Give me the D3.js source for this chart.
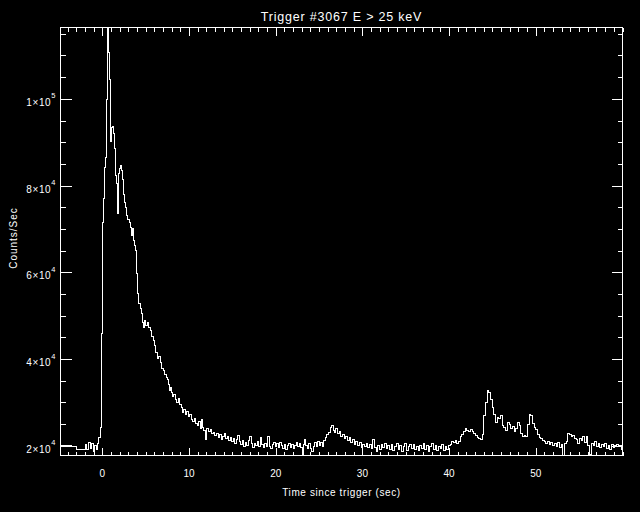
<!DOCTYPE html>
<html><head><meta charset="utf-8">
<script src="https://cdn.jsdelivr.net/npm/d3@7/dist/d3.min.js"></script>
<style>
html,body{margin:0;padding:0;background:#000;}
svg{display:block;background:#000;}
text{fill:#fff;font-family:"Liberation Sans",Arial,sans-serif;}
</style></head><body>
<svg id="c" width="640" height="512"></svg>
<script>
// ---- data (bin start times in s, counts/sec) ----
const times = [
-4.83,-3.53,-3.04,-1.96,-1.78,-1.60,-1.42,-1.25,-1.07,-0.90,-0.72,-0.55,
-0.40,-0.25,-0.12,0.00,0.12,0.23,0.35,0.46,0.58,0.69,0.81,0.92,1.04,1.15,1.27,1.39,1.50,1.62,1.73,
1.90,2.02,2.14,2.25,2.37,2.48,2.60,2.71,2.83,2.95,3.08,3.20,3.31,3.43,3.55,3.66,3.78,3.90,4.04,4.20,
4.35,4.55,4.67,4.78,4.90,5.01,5.16,5.33,5.50,5.70,5.89,6.03,6.17,6.32,6.49,6.66,6.86,7.01,7.18,7.36,
7.50,7.62,7.76,7.88,7.99,8.11,8.24,8.39,8.57,8.74,8.91,9.09,9.24,9.38,9.55,9.72,9.90,10.07,10.24,10.42,
10.59,10.76,10.94,11.11,11.28,11.40,11.51,11.69,11.86,12.03,12.20,12.43,12.61,12.78,12.95,13.13,13.36,13.53,13.71,13.88,
14.05,14.23,14.40,14.57,14.75,14.92,15.09,15.27,15.44,15.61,15.78,15.96,16.13,16.30,16.48,16.65,16.82,17.00,17.17,17.34,
17.51,17.69,17.86,18.04,18.21,18.38,18.56,18.73,18.90,19.07,19.25,19.42,19.60,19.77,19.94,20.11,20.29,20.46,20.63,20.81,
20.98,21.15,21.33,21.50,21.67,21.85,22.02,22.19,22.37,22.54,22.71,22.89,23.03,23.17,23.29,23.46,23.63,23.81,23.98,24.15,
24.33,24.50,24.68,24.85,25.02,25.20,25.37,25.52,25.71,25.90,26.09,26.29,26.46,26.63,26.80,26.94,27.13,27.32,27.51,27.71,
27.90,28.09,28.29,28.48,28.67,28.87,29.06,29.25,29.45,29.64,29.84,30.03,30.22,30.42,30.61,30.81,31.00,31.20,31.39,31.58,
31.78,31.97,32.17,32.36,32.55,32.75,32.94,33.14,33.33,33.52,33.72,33.91,34.11,34.30,34.50,34.69,34.88,35.08,35.27,35.47,
35.66,35.85,36.05,36.24,36.43,36.63,36.82,37.02,37.21,37.41,37.60,37.79,37.99,38.18,38.38,38.57,38.77,38.96,39.15,39.35,
39.54,39.73,39.93,40.12,40.31,40.51,40.70,40.90,41.09,41.28,41.48,41.67,41.87,42.06,42.25,42.45,42.64,42.84,43.03,43.22,
43.42,43.61,43.81,44.00,44.19,44.39,44.58,44.77,44.97,45.16,45.36,45.55,45.74,45.94,46.13,46.32,46.52,46.71,46.91,47.10,
47.29,47.49,47.68,47.87,48.07,48.26,48.46,48.65,48.84,49.04,49.23,49.42,49.62,49.81,50.00,50.20,50.39,50.59,50.78,50.97,
51.17,51.36,51.55,51.75,51.94,52.14,52.33,52.52,52.72,52.91,53.11,53.30,53.49,53.69,53.88,54.07,54.27,54.46,54.66,54.85,
55.04,55.24,55.43,55.63,55.82,56.01,56.21,56.40,56.60,56.79,56.98,57.18,57.37,57.56,57.76,57.95,58.15,58.34,58.53,58.73,
58.92,59.12,59.31,59.50,59.70,59.89
];
const counts = [
20150,19780,19080,20300,19150,20760,19380,20530,18690,20070,19150,20530,
21980,24290,45910,71580,76930,84220,86530,99770,116450,110610,104380,90260,93450,93610,92000,88600,82240,80530,73610,
82840,83850,84610,83460,81310,77920,76150,74990,73080,72090,71500,70370,68500,70140,67370,66220,65060,59750,55140,52830,
51680,50520,48450,47290,48910,47750,48450,47290,46600,45210,44290,43140,41520,40140,40600,39220,37840,37370,36450,35760,
35300,34140,32760,33450,32300,31370,31840,30680,29990,30910,29530,28840,27680,28370,27220,27910,26760,27220,26070,25610,
26300,25150,24680,25610,23990,26070,24220,23530,21450,23990,23300,23760,22840,23070,22380,22840,21910,22610,21450,22150,
22840,21680,22150,21220,21910,20990,21680,20530,21450,22380,20990,20300,21220,19840,20760,20070,21220,22150,20530,19610,
20530,20070,20990,19840,21910,20300,19610,20530,19840,22150,19840,19380,20300,20760,19840,20530,19610,20760,20070,19380,
20300,19150,20070,20530,19610,20300,19380,20070,20760,19840,20530,19610,17990,20300,21450,20070,19380,20530,19380,18690,
19840,20760,19840,20990,20070,20760,19840,21220,21910,22610,23070,24220,24680,23530,23070,23990,22840,23300,22150,22610,
21680,22150,21220,21910,20760,21450,20300,20990,20070,20760,19610,20300,19840,20530,19610,20300,19380,21450,19610,18690,
20070,19150,20300,19610,20530,19380,20070,19150,20300,18920,19840,20530,19150,20070,18690,19840,20530,18920,19840,20300,
19380,20300,19150,19840,18920,20070,19380,20530,19150,20070,18690,19840,20530,19150,20070,18920,19840,19380,20300,18920,
19840,19150,20070,20300,20990,20760,21220,20530,20990,22150,22610,23300,23990,23530,23300,23760,23300,22840,22380,21910,
21680,21450,22610,26990,29990,32760,32300,30680,28840,27220,25380,26530,26300,26990,24680,24220,23530,25380,24910,23990,
24450,23300,23990,25380,24680,22840,22150,22380,22150,24910,27220,26990,25150,24220,23760,22610,21910,21680,21220,20990,
20530,20990,20300,20760,20070,20530,19840,20760,19610,20300,17750,20530,20990,22840,22610,22150,22380,21680,21450,20530,
21680,21220,22150,20760,22150,20070,17990,20530,20070,20990,19840,20530,19610,20300,19840,20530,19380,20070,19150,20300,
19610,20070,20300,19840,20070,19150
];
const endTime = 60.0;
const xMajorTicks = [0, 10, 20, 30, 40, 50];
const xMinorTicks = d3.range(-4, 61, 1);
const yMajorTicks = [20000, 40000, 60000, 80000, 100000];
const yMinorTicks = d3.range(20000, 116000, 5000);
const yTickMantissa = ["2", "4", "6", "8", "1"];
const yTickExponent = ["4", "4", "4", "4", "5"];
const titleText = "Trigger #3067 E > 25 keV";
const xTitle = "Time since trigger (sec)";
const yTitle = "Counts/Sec";

// ---- layout ----
const L = 60.5, R = 622.5, T = 27.5, B = 455.5;
const svg = d3.select("#c");

const x = d3.scaleLinear().domain([times[0], endTime]).range([L, R]);
const y = d3.scaleLinear().domain(d3.extent(counts)).range([B, T]);

function styleAxis(g) {
  g.select(".domain").remove();
  g.selectAll("line").attr("stroke", "#fff").attr("shape-rendering", "crispEdges");
  g.selectAll("text").remove();
}

// frame
svg.append("rect").attr("x", L).attr("y", T).attr("width", R - L).attr("height", B - T)
  .attr("fill", "none").attr("stroke", "#fff").attr("shape-rendering", "crispEdges");

// x axes (bottom + top), ticks pointing inward
svg.append("g").attr("transform", `translate(0,${B})`)
  .call(d3.axisBottom(x).tickValues(xMinorTicks).tickSize(-4).tickSizeOuter(0)).call(styleAxis);
svg.append("g").attr("transform", `translate(0,${B})`)
  .call(d3.axisBottom(x).tickValues(xMajorTicks).tickSize(-8).tickSizeOuter(0)).call(styleAxis);
svg.append("g").attr("transform", `translate(0,${T})`)
  .call(d3.axisTop(x).tickValues(xMinorTicks).tickSize(-4).tickSizeOuter(0)).call(styleAxis);
svg.append("g").attr("transform", `translate(0,${T})`)
  .call(d3.axisTop(x).tickValues(xMajorTicks).tickSize(-8).tickSizeOuter(0)).call(styleAxis);

// y axes (left + right)
svg.append("g").attr("transform", `translate(${L},0)`)
  .call(d3.axisLeft(y).tickValues(yMinorTicks).tickSize(-5).tickSizeOuter(0)).call(styleAxis);
svg.append("g").attr("transform", `translate(${L},0)`)
  .call(d3.axisLeft(y).tickValues(yMajorTicks).tickSize(-11).tickSizeOuter(0)).call(styleAxis);
svg.append("g").attr("transform", `translate(${R},0)`)
  .call(d3.axisRight(y).tickValues(yMinorTicks).tickSize(-5).tickSizeOuter(0)).call(styleAxis);
svg.append("g").attr("transform", `translate(${R},0)`)
  .call(d3.axisRight(y).tickValues(yMajorTicks).tickSize(-11).tickSizeOuter(0)).call(styleAxis);

// x tick labels
svg.append("g").selectAll("text").data(xMajorTicks).join("text")
  .attr("x", d => x(d)).attr("y", 477).attr("text-anchor", "middle")
  .attr("font-size", 10).text(d => d);

// y tick labels with superscripts
const yl = svg.append("g").selectAll("text").data(yMajorTicks).join("text")
  .attr("x", 56).attr("y", d => y(d) + 7).attr("text-anchor", "end")
  .attr("font-size", 10).attr("letter-spacing", 0.6);
yl.append("tspan").text((d, i) => yTickMantissa[i] + "\u00d710");
yl.append("tspan").attr("dy", -7.5).attr("font-size", 7.5).text((d, i) => yTickExponent[i]);

// light curve (histogram steps)
const pts = times.map((t, i) => ({ t, c: counts[i] }));
pts.push({ t: endTime, c: counts[counts.length - 1] });
svg.append("path").datum(pts)
  .attr("fill", "none").attr("stroke", "#fff").attr("stroke-width", 1)
  .attr("shape-rendering", "crispEdges")
  .attr("d", d3.line().x(d => x(d.t)).y(d => y(d.c)).curve(d3.curveStepAfter));

// titles
svg.append("text").attr("x", (L + R) / 2).attr("y", 21).attr("text-anchor", "middle")
  .attr("font-size", 12.5).attr("letter-spacing", 0.8).text(titleText);
svg.append("text").attr("x", (L + R) / 2).attr("y", 496).attr("text-anchor", "middle")
  .attr("font-size", 10).attr("letter-spacing", 0.6).text(xTitle);
svg.append("text").attr("transform", "translate(17,238) rotate(-90)").attr("text-anchor", "middle")
  .attr("font-size", 10).attr("letter-spacing", 1).text(yTitle);
</script>
</body></html>
